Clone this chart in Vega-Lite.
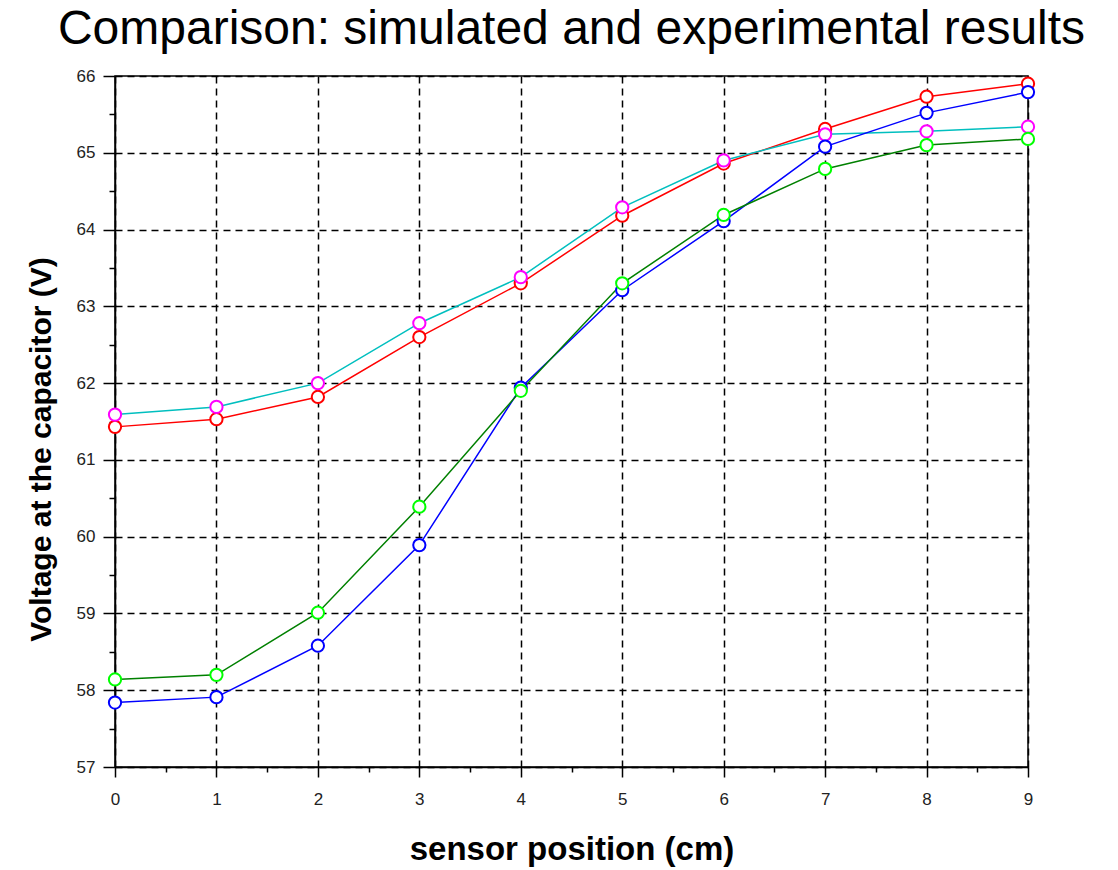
{
  "$schema": "https://vega.github.io/schema/vega-lite/v6.json",
  "width": 913,
  "height": 691,
  "autosize": "none",
  "padding": {"left": 115, "top": 76, "right": 90, "bottom": 103},
  "background": "white",
  "title": {
    "text": "Comparison: simulated and experimental results",
    "font": "Liberation Sans",
    "fontSize": 48,
    "fontWeight": "normal",
    "color": "black",
    "anchor": "middle",
    "offset": 13
  },
  "config": {
    "view": {"stroke": "black", "strokeWidth": 1.5},
    "axis": {
      "domainColor": "black",
      "domainWidth": 1.5,
      "tickColor": "black",
      "tickWidth": 1.5,
      "labelColor": "#222222",
      "labelFont": "Liberation Sans",
      "titleFont": "Liberation Sans",
      "titleFontWeight": "bold",
      "titleColor": "black",
      "gridColor": "black",
      "gridWidth": 1.5,
      "gridDash": [7, 5]
    }
  },
  "datasets": {
    "rows": [
      {"x": 0, "series": "A", "v": 61.43},
      {"x": 1, "series": "A", "v": 61.53},
      {"x": 2, "series": "A", "v": 61.82},
      {"x": 3, "series": "A", "v": 62.6},
      {"x": 4, "series": "A", "v": 63.3},
      {"x": 5, "series": "A", "v": 64.18},
      {"x": 6, "series": "A", "v": 64.86},
      {"x": 7, "series": "A", "v": 65.31},
      {"x": 8, "series": "A", "v": 65.73},
      {"x": 9, "series": "A", "v": 65.9},
      {"x": 0, "series": "B", "v": 61.59},
      {"x": 1, "series": "B", "v": 61.69},
      {"x": 2, "series": "B", "v": 62.0},
      {"x": 3, "series": "B", "v": 62.78},
      {"x": 4, "series": "B", "v": 63.38},
      {"x": 5, "series": "B", "v": 64.29},
      {"x": 6, "series": "B", "v": 64.9},
      {"x": 7, "series": "B", "v": 65.24},
      {"x": 8, "series": "B", "v": 65.28},
      {"x": 9, "series": "B", "v": 65.34},
      {"x": 0, "series": "C", "v": 57.84},
      {"x": 1, "series": "C", "v": 57.91},
      {"x": 2, "series": "C", "v": 58.58},
      {"x": 3, "series": "C", "v": 59.89},
      {"x": 4, "series": "C", "v": 61.94},
      {"x": 5, "series": "C", "v": 63.21},
      {"x": 6, "series": "C", "v": 64.11},
      {"x": 7, "series": "C", "v": 65.08},
      {"x": 8, "series": "C", "v": 65.52},
      {"x": 9, "series": "C", "v": 65.79},
      {"x": 0, "series": "D", "v": 58.14},
      {"x": 1, "series": "D", "v": 58.2},
      {"x": 2, "series": "D", "v": 59.01},
      {"x": 3, "series": "D", "v": 60.39},
      {"x": 4, "series": "D", "v": 61.9},
      {"x": 5, "series": "D", "v": 63.3},
      {"x": 6, "series": "D", "v": 64.19},
      {"x": 7, "series": "D", "v": 64.79},
      {"x": 8, "series": "D", "v": 65.1},
      {"x": 9, "series": "D", "v": 65.18}
    ]
  },
  "data": {"name": "rows"},
  "encoding": {
    "x": {
      "field": "x",
      "type": "quantitative",
      "scale": {"domain": [0, 9], "nice": false, "zero": false},
      "axis": {
        "title": "sensor position (cm)",
        "titleFontSize": 33,
        "titlePadding": 26,
        "labelFontSize": 17,
        "values": [0, 0.5, 1, 1.5, 2, 2.5, 3, 3.5, 4, 4.5, 5, 5.5, 6, 6.5, 7, 7.5, 8, 8.5, 9],
        "labelExpr": "datum.value % 1 === 0 ? format(datum.value, 'd') : ''",
        "labelPadding": 14,
        "tickSize": {"condition": {"test": "datum.value % 1 !== 0", "value": 5}, "value": 10},
        "gridOpacity": {"condition": {"test": "datum.value % 1 !== 0", "value": 0}, "value": 1},
        "labelFlush": false,
        "labelOverlap": false
      }
    },
    "y": {
      "field": "v",
      "type": "quantitative",
      "scale": {"domain": [57, 66], "nice": false, "zero": false},
      "axis": {
        "title": "Voltage at the capacitor (V)",
        "titleFontSize": 30,
        "titlePadding": 20,
        "titleY": 373,
        "labelFontSize": 17,
        "values": [57, 57.5, 58, 58.5, 59, 59.5, 60, 60.5, 61, 61.5, 62, 62.5, 63, 63.5, 64, 64.5, 65, 65.5, 66],
        "labelExpr": "datum.value % 1 === 0 ? format(datum.value, 'd') : ''",
        "labelPadding": 8,
        "tickSize": {"condition": {"test": "datum.value % 1 !== 0", "value": 6}, "value": 12},
        "gridOpacity": {"condition": {"test": "datum.value % 1 !== 0", "value": 0}, "value": 1},
        "labelFlush": false,
        "labelOverlap": false
      }
    }
  },
  "layer": [
    {
      "mark": {"type": "line", "strokeWidth": 1.5},
      "encoding": {
        "color": {
          "field": "series",
          "type": "nominal",
          "scale": {"domain": ["A", "B", "C", "D"], "range": ["#ff0000", "#00bfbf", "#0000ff", "#008000"]},
          "legend": null
        }
      }
    },
    {
      "mark": {"type": "point", "shape": "circle", "filled": false, "fill": "white", "fillOpacity": 1, "size": 150, "strokeWidth": 2, "opacity": 1},
      "encoding": {
        "stroke": {
          "field": "series",
          "type": "nominal",
          "scale": {"domain": ["A", "B", "C", "D"], "range": ["#ff0000", "#ff00ff", "#0000ff", "#00ff00"]},
          "legend": null
        }
      }
    }
  ]
}
